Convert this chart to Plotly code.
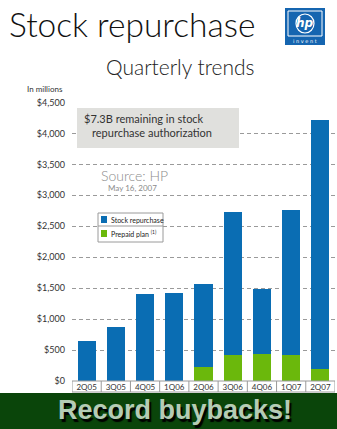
import plotly.graph_objects as go

# Quarterly HP share buybacks, in millions of dollars
quarters = ["2Q05", "3Q05", "4Q05", "1Q06", "2Q06", "3Q06", "4Q06", "1Q07", "2Q07"]
totals = [645, 875, 1400, 1420, 1565, 2725, 1485, 2760, 4225]
prepaid_plan = [0, 0, 0, 0, 225, 420, 435, 420, 195]
stock_repurchase = [t - p for t, p in zip(totals, prepaid_plan)]

tick_values = [0, 500, 1000, 1500, 2000, 2500, 3000, 3500, 4000, 4500]
tick_labels = ["$0", "$500", "$1,000", "$1,500", "$2,000", "$2,500",
               "$3,000", "$3,500", "$4,000", "$4,500"]

legend_names = ["Stock repurchase", "Prepaid plan <sup>(1)</sup>"]

BLUE = "#0a6db3"
GREEN = "#6bb80c"
FONT = "Lato"
W, H = 337, 429


def py(px):
    """Pixel row (from top) -> paper y."""
    return 1 - px / H


def pxx(px):
    """Pixel column -> paper x."""
    return px / W


def label(text, x, y, size, color="#333333", family=FONT, xanchor="left", **font_kw):
    return dict(text=text, xref="paper", yref="paper", x=pxx(x), y=py(y),
                xanchor=xanchor, yanchor="middle", showarrow=False,
                font=dict(family=family, size=size, color=color, **font_kw))


def box(x0, x1, y0, y1, fill, line_color=None, line_width=0, kind="rect", layer="above"):
    return dict(type=kind, xref="paper", yref="paper", x0=pxx(x0), x1=pxx(x1),
                y0=py(y1), y1=py(y0), fillcolor=fill, layer=layer,
                line=dict(color=line_color or fill, width=line_width))


fig = go.Figure()
fig.add_trace(go.Bar(x=quarters, y=prepaid_plan, name=legend_names[1],
                     marker=dict(color=GREEN, line=dict(width=0))))
fig.add_trace(go.Bar(x=quarters, y=stock_repurchase, name=legend_names[0],
                     marker=dict(color=BLUE, line=dict(width=0))))

shapes = []
annotations = []

# category cells under the bars
shapes.append(dict(type="rect", xref="x", yref="paper", x0=-0.5, x1=len(quarters) - 0.5,
                   y0=py(392), y1=py(381), line=dict(color="#9a9a9a", width=1),
                   fillcolor="rgba(0,0,0,0)", layer="above"))
for i in range(len(quarters) - 1):
    shapes.append(dict(type="line", xref="x", yref="paper", x0=i + 0.5, x1=i + 0.5,
                       y0=py(392), y1=py(381), line=dict(color="#9a9a9a", width=1)))

# bottom banner
shapes.append(box(0, W, 393, H, "#0a450a"))
annotations.append(label("<b>Record buybacks!</b>", 175, 410, 27, color="#b5ccb5",
                         family="Liberation Sans", xanchor="center",
                         shadow="2px 3px 1px #000000"))

# authorization call-out box
shapes.append(box(77, 239, 108, 148, "#e0e0dd"))
annotations.append(label("$7.3B remaining in stock", 82, 118, 11))
annotations.append(label("repurchase authorization", 90, 132, 11))

# source note
annotations.append(label("Source: HP", 99, 175, 14, color="#8c8c8c", weight=300))
annotations.append(label("May 16, 2007", 106, 188, 8, color="#8c8c8c"))

# legend drawn as a two-cell table
shapes.append(box(98, 163, 213, 242, "white", "#9a9a9a", 1))
shapes.append(dict(type="line", xref="paper", yref="paper", x0=pxx(98), x1=pxx(163),
                   y0=py(226), y1=py(226), line=dict(color="#9a9a9a", width=1)))
shapes.append(box(101, 107, 216, 223, BLUE))
shapes.append(box(101, 107, 230, 237, GREEN))
annotations.append(label(legend_names[0], 109, 219.5, 7, color="#222222"))
annotations.append(label(legend_names[1], 109, 233.5, 7, color="#222222"))

# titles
annotations.append(label("Stock repurchase", 7, 24, 33.5, color="#111111", weight=300))
annotations.append(label("Quarterly trends", 180, 66, 21, color="#222222",
                         xanchor="center", weight=300))
annotations.append(label("In millions", 25, 89, 8))

# HP logo
shapes.append(box(285, 325, 8, 45, "#1565b0"))
shapes.append(box(288, 322, 11, 36, "#1565b0", "white", 1))
shapes.append(box(296, 314, 14, 33, "#1565b0", "white", 1.2, kind="circle"))
annotations.append(label("<b><i>hp</i></b>", 305, 23, 12, color="white",
                         family="DejaVu Sans", xanchor="center"))
annotations.append(label("i n v e n t", 305, 41, 5, color="white",
                         family="DejaVu Sans", xanchor="center"))

fig.update_layout(
    width=W, height=H,
    margin=dict(l=0, r=0, t=0, b=0),
    paper_bgcolor="white", plot_bgcolor="white",
    barmode="stack", bargap=0.38,
    showlegend=False,
    xaxis=dict(domain=[pxx(72), pxx(335)], range=[-0.5, len(quarters) - 0.5],
               automargin=False, showgrid=False, showline=False, zeroline=False,
               ticks="", tickfont=dict(family=FONT, size=8, color="#333333")),
    yaxis=dict(domain=[py(381), py(102.5)], range=[0, 4500], automargin=False,
               tickvals=tick_values, ticktext=tick_labels,
               showgrid=True, gridcolor="#9a9a9a", griddash="4px,3px", gridwidth=1,
               zeroline=False, showline=False, ticks="", ticklabelstandoff=6,
               tickfont=dict(family=FONT, size=9, color="#333333")),
    shapes=shapes, annotations=annotations,
)

fig.write_html("out.html")
